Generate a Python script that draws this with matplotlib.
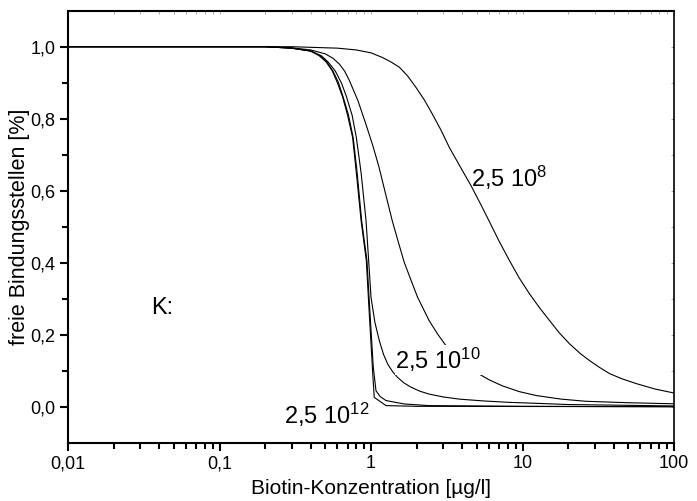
import numpy as np
import matplotlib
matplotlib.use('Agg')
import matplotlib.pyplot as plt
from matplotlib.ticker import FixedLocator, NullFormatter

plt.rcParams['font.family'] = ['Liberation Sans', 'DejaVu Sans']
plt.rcParams['mathtext.fontset'] = 'custom'
plt.rcParams['mathtext.rm'] = 'Liberation Sans'
plt.rcParams['mathtext.default'] = 'regular'

# curves, x in ug/l, y fraction of free sites
x_k8 = [0.01, 0.3, 0.6, 0.8, 1.0, 1.19, 1.35, 1.54, 1.75, 1.98, 2.25, 2.54, 2.9, 3.29, 3.9, 4.6, 5.3, 6.0, 7.0,
        8.2, 9.5, 11.1, 13.0, 15.1, 17.5, 20.4, 24.0, 27.7, 32.0, 37.5, 45.0, 56.5, 75.0, 100]
y_k8 = [1.0, 1.0, 0.996, 0.991, 0.983, 0.970, 0.958, 0.943, 0.918, 0.887, 0.852, 0.813, 0.768, 0.720, 0.665,
        0.612, 0.562, 0.517, 0.460, 0.406, 0.358, 0.314, 0.274, 0.239, 0.205, 0.175, 0.148, 0.128, 0.110,
        0.092, 0.078, 0.064, 0.049, 0.038]

x_k9 = [0.01, 0.2, 0.3, 0.4, 0.5, 0.56, 0.618, 0.67, 0.72, 0.82, 0.925, 1.03, 1.13, 1.25, 1.38, 1.52, 1.66,
        1.85, 2.03, 2.42, 2.74, 3.13, 3.8, 4.82, 6.0, 7.35, 9.5, 12.3, 18.0, 26.3, 50.0, 100]
y_k9 = [1.0, 1.0, 0.997, 0.991, 0.980, 0.968, 0.952, 0.932, 0.906, 0.850, 0.785, 0.724, 0.665, 0.590, 0.517,
        0.455, 0.400, 0.348, 0.304, 0.239, 0.203, 0.169, 0.130, 0.098, 0.075, 0.058, 0.042, 0.031, 0.021,
        0.015, 0.011, 0.008]

x_k10 = [0.01, 0.2, 0.3, 0.4, 0.47, 0.52, 0.58, 0.64, 0.69, 0.75, 0.80, 0.86, 0.927, 0.96, 1.0, 1.06, 1.135,
         1.21, 1.29, 1.39, 1.5, 1.65, 1.84, 2.1, 2.42, 3.0, 3.83, 5.5, 8.2, 13.0, 20.0, 45.0, 100]
y_k10 = [1.0, 1.0, 0.996, 0.988, 0.975, 0.958, 0.933, 0.898, 0.860, 0.810, 0.748, 0.650, 0.517, 0.420, 0.304,
         0.235, 0.183, 0.145, 0.118, 0.097, 0.081, 0.066, 0.054, 0.043, 0.035, 0.027, 0.021, 0.016, 0.012,
         0.009, 0.006, 0.004, 0.002]

x_k11 = [0.01, 0.2, 0.3, 0.4, 0.46, 0.51, 0.56, 0.61, 0.655, 0.71, 0.762, 0.81, 0.867, 0.94, 0.985, 1.035,
         1.079, 1.15, 1.256, 1.66, 2.42, 10, 100]
y_k11 = [1.0, 1.0, 0.996, 0.988, 0.975, 0.958, 0.933, 0.900, 0.860, 0.810, 0.748, 0.650, 0.517, 0.406,
         0.258, 0.110, 0.044, 0.028, 0.017, 0.0075, 0.003, 0.001, 0.0]

x_k12 = [0.01, 0.2, 0.3, 0.4, 0.455, 0.505, 0.555, 0.60, 0.65, 0.70, 0.756, 0.80, 0.86, 0.931, 0.974, 1.024,
         1.05, 1.256, 2.0, 100]
y_k12 = [1.0, 1.0, 0.996, 0.988, 0.975, 0.958, 0.933, 0.900, 0.860, 0.810, 0.748, 0.650, 0.517, 0.406, 0.258,
         0.100, 0.026, 0.003, 0.001, 0.0]

curves = [(x_k8, y_k8), (x_k9, y_k9), (x_k10, y_k10), (x_k11, y_k11), (x_k12, y_k12)]

xticks = [0.01, 0.1, 1, 10, 100]
xticklabels = ['0,01', '0,1', '1', '10', '100']
yticks = [0.0, 0.2, 0.4, 0.6, 0.8, 1.0]
yticklabels = ['0,0', '0,2', '0,4', '0,6', '0,8', '1,0']
yminor = [0.1, 0.3, 0.5, 0.7, 0.9]

fig = plt.figure(figsize=(6.97, 5.01), dpi=100)
ax = fig.add_axes([0.0976, 0.1164, 0.8694, 0.8622])

for xs, ys in curves:
    ax.plot(xs, ys, color='black', lw=0.8)

ax.set_xscale('log')
ax.set_xlim(0.01, 100)
ax.set_ylim(-0.1, 1.1)

minor_x = [m * 10.0 ** e for e in range(-2, 2) for m in range(2, 10)]
ax.xaxis.set_major_locator(FixedLocator(xticks))
ax.set_xticklabels(xticklabels)
ax.xaxis.set_minor_locator(FixedLocator(minor_x))
ax.xaxis.set_minor_formatter(NullFormatter())
ax.yaxis.set_major_locator(FixedLocator(yticks))
ax.set_yticklabels(yticklabels)
ax.yaxis.set_minor_locator(FixedLocator(yminor))

ax.tick_params(which='major', direction='out', length=6, width=1.5, labelsize=13, pad=3)
ax.tick_params(which='minor', direction='out', length=4, width=1.5)
for s in ax.spines.values():
    s.set_linewidth(1.5)
ax.spines['right'].set_linewidth(1.2)

# faint inner ticks on top and right
top = ax.secondary_xaxis('top')
top.xaxis.set_major_locator(FixedLocator(xticks + minor_x))
top.xaxis.set_minor_locator(FixedLocator([]))
top.tick_params(direction='in', length=2.5, width=0.6, color='#999999', labeltop=False)
top.spines['top'].set_visible(False)
right = ax.secondary_yaxis('right')
right.yaxis.set_major_locator(FixedLocator(yticks + yminor))
right.tick_params(direction='in', length=2.5, width=0.6, color='#999999', labelright=False)
right.spines['right'].set_visible(False)

ax.set_xlabel('Biotin-Konzentration [µg/l]', fontsize=15, labelpad=5)
ax.set_ylabel('freie Bindungsstellen [%]', fontsize=15.5, labelpad=0)

ax.text(0.0354, 0.274, 'K:', fontsize=17, va='center', ha='left')
ax.text(4.55, 0.636, '2,5 10$^{8}$', fontsize=17, va='center', ha='left')
ax.text(1.45, 0.13, '2,5 10$^{10}$', fontsize=17, va='center', ha='left',
        bbox=dict(facecolor='white', edgecolor='none', pad=0.5))
ax.text(0.265, -0.024, '2,5 10$^{12}$', fontsize=17, va='center', ha='left')

fig.savefig('out.png', dpi=100)
